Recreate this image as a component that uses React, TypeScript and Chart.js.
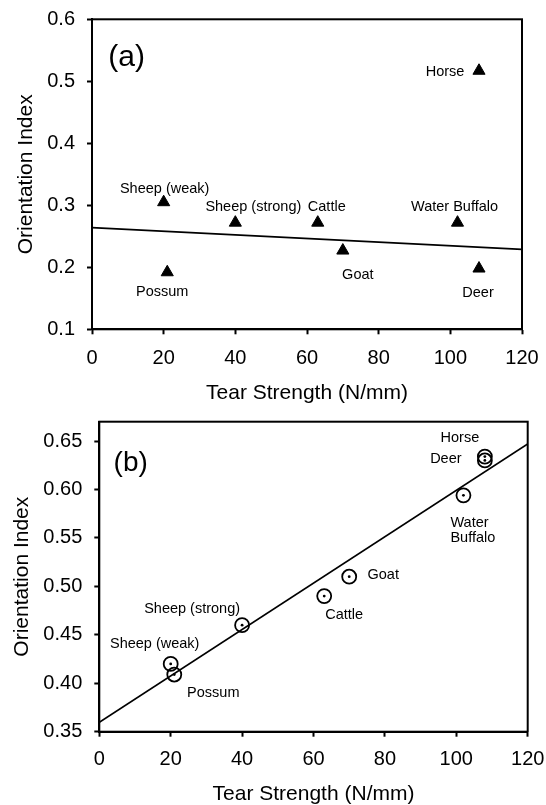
import React, { useEffect, useRef } from "react";
import { Chart, registerables } from "chart.js";

Chart.register(...registerables);

const FONT = '"Liberation Sans", Arial, Helvetica, sans-serif';

// ---- data ----
const animals = ["Sheep (weak)", "Possum", "Sheep (strong)", "Cattle", "Goat", "Water Buffalo", "Horse", "Deer"];
const tearStrength = [20, 21, 40, 63, 70, 102, 108, 108];
const orientationA = [0.305, 0.192, 0.272, 0.272, 0.227, 0.272, 0.517, 0.198];
const orientationB = [0.42, 0.409, 0.46, 0.49, 0.51, 0.594, 0.634, 0.63];
const fitX = [0, 120];
const fitA = [0.264, 0.229];
const fitB = [0.3597, 0.647];
const xTicks = [0, 20, 40, 60, 80, 100, 120];
const yTicksA = [0.1, 0.2, 0.3, 0.4, 0.5, 0.6];
const yTicksB = [0.35, 0.4, 0.45, 0.5, 0.55, 0.6, 0.65];

// ---- label placement (layout, not data) ----
type LabelPos = { dx: number; dy: number; align?: CanvasTextAlign; wrap?: boolean };
const labelPosA: LabelPos[] = [
  { dx: 1, dy: -13 },
  { dx: -5, dy: 20 },
  { dx: 18, dy: -16 },
  { dx: 9, dy: -16 },
  { dx: 15, dy: 24 },
  { dx: -3, dy: -16 },
  { dx: -34, dy: 1 },
  { dx: -1, dy: 24 },
];
const labelPosB: LabelPos[] = [
  { dx: -16, dy: -20 },
  { dx: 39, dy: 18 },
  { dx: -50, dy: -16.5 },
  { dx: 20, dy: 18.5 },
  { dx: 34, dy: -2 },
  { dx: -13, dy: 28, align: "left", wrap: true },
  { dx: -25, dy: -19 },
  { dx: -39, dy: -1 },
];

type Panel = {
  tag: string;
  tagSize: number;
  tagDx: number;
  tagDy: number;
  values: number[];
  fit: number[];
  yTicks: number[];
  yMin: number;
  yMax: number;
  decimals: number;
  marker: "triangle" | "circle";
  labelPos: LabelPos[];
  canvasTop: number;
  canvasHeight: number;
  padTop: number;
  padRight: number;
  yAxisWidth: number;
  xAxisHeight: number;
  yTitlePad: number;
  xTitlePad: number;
  xTickPad: number;
};

const panels: Panel[] = [
  {
    tag: "(a)", tagSize: 30, tagDx: 34.6, tagDy: 38.2,
    values: orientationA, fit: fitA, yTicks: yTicksA, yMin: 0.1, yMax: 0.6, decimals: 1,
    marker: "triangle", labelPos: labelPosA,
    canvasTop: 0, canvasHeight: 405, padTop: 19.3, padRight: 24,
    yAxisWidth: 92, xAxisHeight: 405 - 329.3, yTitlePad: 15.3, xTitlePad: 1.5, xTickPad: 11.7,
  },
  {
    tag: "(b)", tagSize: 28, tagDx: 31.4, tagDy: 41.3,
    values: orientationB, fit: fitB, yTicks: yTicksB, yMin: 0.35, yMax: 0.67, decimals: 2,
    marker: "circle", labelPos: labelPosB,
    canvasTop: 405, canvasHeight: 400, padTop: 16.7, padRight: 18.3,
    yAxisWidth: 99.3, xAxisHeight: 400 - 326.7, yTitlePad: 11.3, xTitlePad: 0.5, xTickPad: 10.3,
  },
];

function buildConfig(p: Panel): any {
  const pts = tearStrength.map((x, i) => ({ x, y: p.values[i] }));
  const datasets: any[] = [
    {
      data: fitX.map((x, i) => ({ x, y: p.fit[i] })),
      showLine: true,
      borderColor: "#000",
      borderWidth: 1.8,
      pointRadius: 0,
      fill: false,
    },
    {
      data: pts,
      pointStyle: p.marker,
      pointRadius: 7,
      backgroundColor: p.marker === "triangle" ? "#000" : "rgba(0,0,0,0)",
      borderColor: "#000",
      borderWidth: p.marker === "triangle" ? 1 : 1.8,
    },
  ];
  if (p.marker === "circle") {
    datasets.push({
      data: pts,
      pointStyle: "circle",
      pointRadius: 1.4,
      backgroundColor: "#000",
      borderWidth: 0,
    });
  }

  const tickFont = { family: FONT, size: 20 };
  const titleFont = { family: FONT, size: 21, lineHeight: 1 };

  const framePlugin = {
    id: "frame" + p.tag,
    beforeDatasetsDraw(chart: any) {
      const { ctx, chartArea: a } = chart;
      ctx.save();
      ctx.strokeStyle = "#000";
      ctx.lineWidth = 2;
      ctx.strokeRect(a.left, a.top, a.right - a.left, a.bottom - a.top);
      ctx.restore();
    },
    afterDatasetsDraw(chart: any) {
      const { ctx, chartArea: a } = chart;
      const meta = chart.getDatasetMeta(1);
      ctx.save();
      ctx.fillStyle = "#000";
      ctx.textBaseline = "middle";
      ctx.font = `14.5px ${FONT}`;
      meta.data.forEach((el: any, i: number) => {
        const lp = p.labelPos[i];
        ctx.textAlign = lp.align || "center";
        const lines = lp.wrap ? animals[i].split(" ") : [animals[i]];
        lines.forEach((line, k) => {
          ctx.fillText(line, el.x + lp.dx, el.y + lp.dy + k * 15);
        });
      });
      ctx.font = `${p.tagSize}px ${FONT}`;
      ctx.textAlign = "center";
      ctx.fillText(p.tag, a.left + p.tagDx, a.top + p.tagDy);
      ctx.restore();
    },
  };

  return {
    type: "scatter",
    data: { datasets },
    plugins: [framePlugin],
    options: {
      responsive: false,
      animation: false,
      events: [],
      layout: { padding: { left: 0, top: p.padTop, right: p.padRight, bottom: 0 } },
      plugins: { legend: { display: false }, tooltip: { enabled: false } },
      scales: {
        x: {
          type: "linear",
          min: 0,
          max: 120,
          afterBuildTicks: (s: any) => {
            s.ticks = xTicks.map((v) => ({ value: v }));
          },
          afterFit: (s: any) => {
            s.height = p.xAxisHeight;
            s.paddingLeft = 0;
            s.paddingRight = 0;
          },
          ticks: {
            font: tickFont,
            color: "#000",
            padding: p.xTickPad,
            maxRotation: 0,
            autoSkip: false,
            callback: (v: any) => String(v),
          },
          grid: { drawOnChartArea: false, drawTicks: true, tickLength: 5, tickWidth: 2, tickColor: "#000" },
          border: { display: true, color: "#000", width: 2 },
          title: {
            display: true,
            text: "Tear Strength (N/mm)",
            font: titleFont,
            color: "#000",
            padding: { top: 0, bottom: p.xTitlePad },
          },
        },
        y: {
          type: "linear",
          min: p.yMin,
          max: p.yMax,
          afterBuildTicks: (s: any) => {
            s.ticks = p.yTicks.map((v) => ({ value: v }));
          },
          afterFit: (s: any) => {
            s.width = p.yAxisWidth;
            s.paddingTop = 0;
            s.paddingBottom = 0;
          },
          ticks: {
            font: tickFont,
            color: "#000",
            padding: 12,
            autoSkip: false,
            callback: (v: any) => Number(v).toFixed(p.decimals),
          },
          grid: { drawOnChartArea: false, drawTicks: true, tickLength: 5, tickWidth: 2, tickColor: "#000" },
          border: { display: true, color: "#000", width: 2 },
          title: {
            display: true,
            text: "Orientation Index",
            font: titleFont,
            color: "#000",
            padding: { top: p.yTitlePad, bottom: 0 },
          },
        },
      },
    },
  };
}

function PanelChart({ panel }: { panel: Panel }) {
  const ref = useRef<HTMLCanvasElement | null>(null);
  useEffect(() => {
    if (!ref.current) return;
    const chart = new Chart(ref.current, buildConfig(panel));
    return () => chart.destroy();
  }, [panel]);
  return (
    <canvas
      ref={ref}
      width={546}
      height={panel.canvasHeight}
      style={{ position: "absolute", left: 0, top: panel.canvasTop, width: 546, height: panel.canvasHeight }}
    />
  );
}

export default function App() {
  return (
    <div
      style={{
        position: "absolute",
        left: 0,
        top: 0,
        width: 546,
        height: 805,
        background: "#fff",
        overflow: "hidden",
      }}
    >
      {panels.map((p) => (
        <PanelChart key={p.tag} panel={p} />
      ))}
    </div>
  );
}
